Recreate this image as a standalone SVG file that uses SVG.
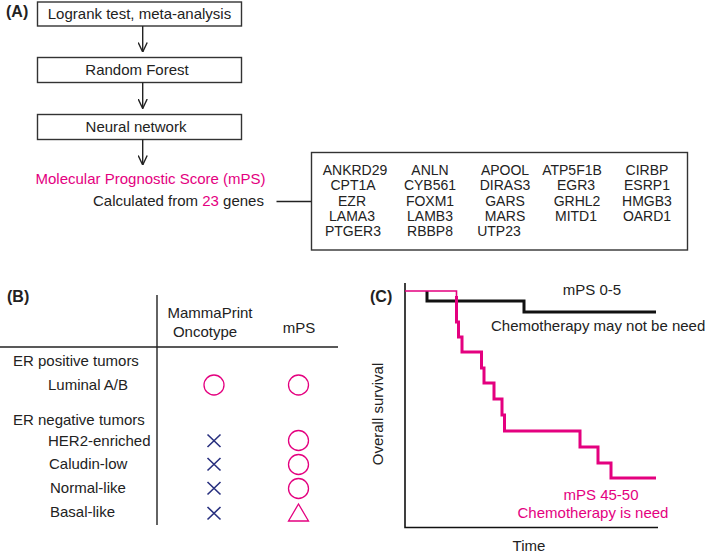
<svg xmlns="http://www.w3.org/2000/svg" width="709" height="554" viewBox="0 0 709 554">
<defs>
<style>
text{font-family:"Liberation Sans",Arial,sans-serif;font-size:15px;fill:#222}
.lbl{font-weight:bold;font-size:16px}
.pk{fill:#e4007f}
.g{font-size:14px;text-anchor:middle}
.mid{text-anchor:middle}
.box{fill:#fff;stroke:#333;stroke-width:1.4}
.ln{fill:none;stroke:#222;stroke-width:1.4}
.circ{fill:none;stroke:#e4007f;stroke-width:1.3}
.x{stroke:#28307f;stroke-width:1.6;fill:none}
</style>
<marker id="ah" viewBox="0 0 10 10" refX="10" refY="5" markerWidth="10" markerHeight="10" markerUnits="userSpaceOnUse" orient="auto">
<path d="M0.5,0.5 L10,5 L0.5,9.5" fill="none" stroke="#222" stroke-width="1.4"/>
</marker>
</defs>
<rect width="709" height="554" fill="#fff"/>

<!-- Panel A -->
<text class="lbl" x="6" y="16.5">(A)</text>
<g id="n-logrank"><rect class="box" x="37.5" y="2" width="204" height="24"/><text class="mid" x="139.5" y="19">Logrank test, meta-analysis</text></g>
<g id="n-rf"><rect class="box" x="37.5" y="57.5" width="204" height="25"/><text class="mid" x="137" y="75">Random Forest</text></g>
<g id="n-nn"><rect class="box" x="37.5" y="114.5" width="204" height="25"/><text class="mid" x="136" y="132">Neural network</text></g>
<g id="n-mps">
<text class="pk" x="35.5" y="183.5">Molecular Prognostic Score (mPS)</text>
<text x="93" y="205.5">Calculated from <tspan class="pk">23</tspan> genes</text>
</g>
<g id="n-genes">
<rect class="box" x="311.5" y="152.5" width="376" height="97.5"/>
<text class="g" x="355" y="175">ANKRD29</text><text class="g" x="430" y="175">ANLN</text><text class="g" x="505" y="175">APOOL</text><text class="g" x="572" y="175">ATP5F1B</text><text class="g" x="647" y="175">CIRBP</text>
<text class="g" x="353" y="190.3">CPT1A</text><text class="g" x="430" y="190.3">CYB561</text><text class="g" x="505" y="190.3">DIRAS3</text><text class="g" x="576" y="190.3">EGR3</text><text class="g" x="647" y="190.3">ESRP1</text>
<text class="g" x="352" y="205.6">EZR</text><text class="g" x="430" y="205.6">FOXM1</text><text class="g" x="505" y="205.6">GARS</text><text class="g" x="577" y="205.6">GRHL2</text><text class="g" x="647" y="205.6">HMGB3</text>
<text class="g" x="352" y="220.9">LAMA3</text><text class="g" x="430" y="220.9">LAMB3</text><text class="g" x="505" y="220.9">MARS</text><text class="g" x="576" y="220.9">MITD1</text><text class="g" x="647" y="220.9">OARD1</text>
<text class="g" x="353" y="236.2">PTGER3</text><text class="g" x="430" y="236.2">RBBP8</text><text class="g" x="499" y="236.2">UTP23</text>
</g>
<g id="connectors">
<line class="ln" x1="142.7" y1="26" x2="142.7" y2="52" marker-end="url(#ah)"/>
<line class="ln" x1="142.7" y1="82.5" x2="142.7" y2="108.5" marker-end="url(#ah)"/>
<line class="ln" x1="142.7" y1="139.5" x2="142.7" y2="165" marker-end="url(#ah)"/>
<line class="ln" x1="276.5" y1="201.5" x2="311.5" y2="201.5"/>
</g>

<!-- Panel B -->
<g id="panel-b">
<text class="lbl" x="7" y="302">(B)</text>
<line class="ln" x1="157" y1="295" x2="157" y2="525"/>
<line class="ln" x1="0" y1="347" x2="338" y2="347"/>
<text class="mid" x="210" y="318">MammaPrint</text>
<text class="mid" x="205" y="337">Oncotype</text>
<text class="mid" x="299" y="333">mPS</text>
<text x="13" y="366">ER positive tumors</text>
<text x="48" y="390">Luminal A/B</text>
<text x="13" y="425">ER negative tumors</text>
<text x="48" y="446">HER2-enriched</text>
<text x="49" y="469">Caludin-low</text>
<text x="50" y="493">Normal-like</text>
<text x="50" y="517">Basal-like</text>
<circle class="circ" cx="214" cy="385" r="10"/>
<circle class="circ" cx="298.5" cy="385" r="10"/>
<circle class="circ" cx="298.5" cy="440.5" r="10"/>
<circle class="circ" cx="298.5" cy="464.5" r="10"/>
<circle class="circ" cx="298.5" cy="488.5" r="10"/>
<path class="circ" d="M298.5,504 L308.5,521 L288.5,521 Z"/>
<path class="x" d="M207.5,434.5 L220.5,447 M220.5,434.5 L207.5,447"/>
<path class="x" d="M207.5,458 L220.5,470.5 M220.5,458 L207.5,470.5"/>
<path class="x" d="M207.5,482 L220.5,494.5 M220.5,482 L207.5,494.5"/>
<path class="x" d="M207.5,507 L220.5,519.5 M220.5,507 L207.5,519.5"/>
</g>

<!-- Panel C -->
<g id="panel-c">
<text class="lbl" x="370" y="302">(C)</text>
<path d="M405,283 V527.5 H658" fill="none" stroke="#111" stroke-width="1.6"/>
<path d="M427,291 V301 H524 V312 H656" fill="none" stroke="#111" stroke-width="3"/>
<path d="M405,291 H456.5 V298" fill="none" stroke="#e4007f" stroke-width="1.6"/>
<path d="M456.5,296 V322 H458.5 V337 H462 V352 H481.5 V368 H484 V383 H494 V399 H502 V415 H504.5 V431 H580 V447 H598 V463 H611 V478 H656" fill="none" stroke="#e4007f" stroke-width="3"/>
<text class="mid" x="592" y="295">mPS 0-5</text>
<text x="491" y="331">Chemotherapy may not be need</text>
<text class="mid pk" x="601" y="500">mPS 45-50</text>
<text class="mid pk" x="593" y="518">Chemotherapy is need</text>
<text class="mid" x="529" y="551">Time</text>
<text class="mid" transform="translate(383,414) rotate(-90)">Overall survival</text>
</g>
</svg>
